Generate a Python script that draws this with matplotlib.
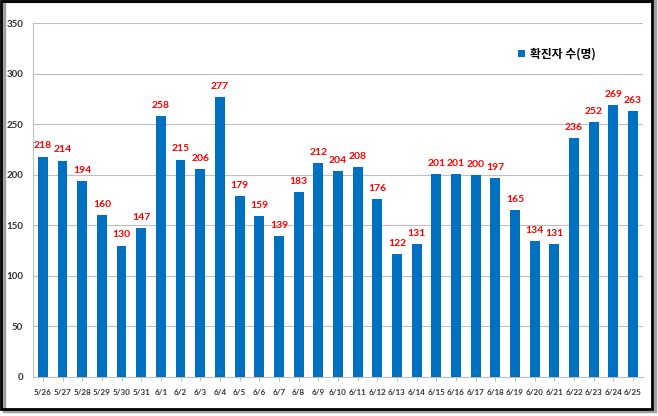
import matplotlib.pyplot as plt
from matplotlib.patches import Rectangle

plt.rcParams['font.family'] = ['Noto Sans CJK KR', 'DejaVu Sans']

dates = ['5/26', '5/27', '5/28', '5/29', '5/30', '5/31',
         '6/1', '6/2', '6/3', '6/4', '6/5', '6/6', '6/7', '6/8', '6/9',
         '6/10', '6/11', '6/12', '6/13', '6/14', '6/15', '6/16', '6/17',
         '6/18', '6/19', '6/20', '6/21', '6/22', '6/23', '6/24', '6/25']
cases = [218, 214, 194, 160, 130, 147, 258, 215, 206, 277, 179, 159, 139,
         183, 212, 204, 208, 176, 122, 131, 201, 201, 200, 197, 165, 134,
         131, 236, 252, 269, 263]

fig = plt.figure(figsize=(6.58, 4.16), dpi=100)
ax = fig.add_axes([0.0502, 0.0938, 0.9268, 0.8509])

x = range(len(dates))
ax.bar(x, cases, width=0.5, color='#0070C0', label='확진자 수(명)', zorder=3)
for xi, v in zip(x, cases):
    ax.text(xi, v + 6, str(v), ha='center', va='bottom', color='#FF0000',
            fontsize=7.5, fontweight='bold', family=['Lato', 'DejaVu Sans'])

ax.set_xlim(-0.5, len(dates) - 0.5)
ax.set_ylim(0, 350)
ax.set_yticks(range(0, 351, 50))
ax.set_xticks(list(x))
ax.set_xticklabels(dates)
ax.tick_params(axis='x', labelsize=5.8, length=3, color='#BFBFBF', pad=6)
ax.tick_params(axis='y', labelsize=7, length=0, pad=7)
for lab in ax.get_xticklabels() + ax.get_yticklabels():
    lab.set_fontweight('bold')
    lab.set_family(['Lato', 'DejaVu Sans'])
    lab.set_color('#333333')
ax.grid(axis='y', color='#BFBFBF', linewidth=0.8, zorder=0)
for s in ['top', 'right']:
    ax.spines[s].set_visible(False)
ax.spines['left'].set_color('#BFBFBF')
ax.spines['bottom'].set_color('#BFBFBF')

leg = ax.legend(loc='upper right', bbox_to_anchor=(0.94, 0.96), frameon=False,
                handlelength=0.6, handleheight=0.6, handletextpad=0.4,
                prop={'weight': 'bold', 'size': 8.5})

# black frame with a grey shadow, as in the source picture
fig.patches.append(Rectangle((0.006, 0.012), 0.989, 0.985, transform=fig.transFigure,
                             fill=False, edgecolor='#A0A0A0', linewidth=2.5))
fig.patches.append(Rectangle((0.002, 0.016), 0.989, 0.981, transform=fig.transFigure,
                             fill=False, edgecolor='black', linewidth=2))

fig.savefig('out.png', dpi=100)
